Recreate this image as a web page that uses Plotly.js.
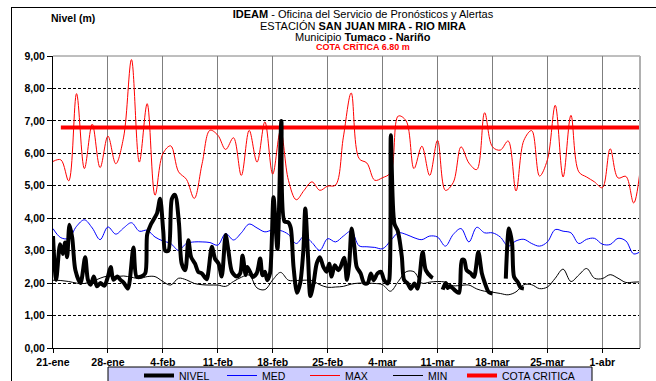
<!DOCTYPE html>
<html><head><meta charset="utf-8">
<script src="https://cdn.plot.ly/plotly-3.0.1.min.js"></script>
<style>
html,body{margin:0;padding:0;background:#fff;}
#wrap{position:relative;width:656px;height:381px;overflow:hidden;}
#chart{width:656px;height:381px;}
#frame{position:absolute;left:11px;top:7px;width:700px;height:420px;border-left:1px solid #000;border-top:1px solid #000;pointer-events:none;}
</style>
</head><body>
<div id="wrap"><div id="chart"></div><div id="frame"></div></div>
<script>
// ---- data (días contados desde el 21-ene) ----
const fechaInicio = [2019, 0, 21];
const tickDias = [0, 7, 14, 21, 28, 35, 42, 49, 56, 63, 70];
const tickEtiquetas = ['21-ene','28-ene','4-feb','11-feb','18-feb','25-feb','4-mar','11-mar','18-mar','25-mar','1-abr'];

const maxValores = [5.75,5.8,5.15,7.84,5.53,6.9,5.56,6.53,5.68,6.5,
  8.89,5.73,7.53,4.71,5.99,6.23,5.43,5.2,4.61,5.68,
  6.71,6.56,6.12,6.48,5.32,6.71,5.73,6.97,5.36,6.71,
  5.17,4.57,4.86,5.12,4.86,4.99,5.02,6.5,7.86,5.84,
  5.7,5.17,5.25,5.4,7.15,7.0,5.53,6.22,5.32,6.4,
  4.86,5.1,6.2,5.7,5.5,7.25,6.2,6.1,6.38,4.84,
  6.4,6.7,5.3,5.8,7.48,5.27,7.17,5.43,5.27,5.12,
  4.94,6.14,5.24,5.29,4.47,5.9];
const medValores = [3.68,3.4,3.38,3.75,3.95,3.7,3.34,3.73,3.51,3.7,
  3.86,3.6,3.63,3.42,3.3,3.22,3.01,3.22,3.27,3.27,
  3.25,3.17,3.53,3.33,3.55,3.82,3.7,3.58,3.64,3.62,
  3.5,3.22,3.45,3.25,3.01,3.37,3.27,3.45,3.6,3.15,
  3.12,3.1,3.06,3.3,3.55,3.5,3.4,3.34,3.45,3.42,
  3.14,3.5,3.68,3.27,3.72,3.55,3.55,3.42,3.14,3.3,
  3.35,3.22,3.14,3.27,3.65,3.6,3.55,3.22,3.35,3.38,
  3.2,3.19,3.38,3.3,2.9,3.0];
const minValores = [2.09,2.08,2.05,2.0,1.99,2.05,2.15,2.22,2.2,2.22,
  2.18,2.14,2.2,2.2,2.05,1.94,2.15,2.1,1.99,1.95,
  1.94,1.94,1.9,2.05,2.18,2.25,1.85,1.8,2.1,2.33,
  2.09,2.08,2.09,2.08,1.95,1.87,1.88,1.9,1.97,2.0,
  2.0,1.99,1.95,1.75,2.05,2.35,2.35,2.0,2.03,2.05,
  2.03,1.92,1.93,1.94,1.82,1.75,1.72,1.68,1.64,1.73,
  1.95,1.95,1.83,1.88,2.15,2.43,2.05,2.25,2.45,2.15,
  2.14,2.26,2.15,2.02,2.03,2.04];
const nivelDias = [0,0.4,0.9,1.25,1.55,1.8,2.1,2.45,2.85,3.5,
  4.1,4.45,4.8,5.2,5.6,6.05,6.55,7.0,7.35,7.7,
  8.2,8.6,9.05,9.55,10.25,10.65,11.2,11.75,12.0,12.45,
  12.8,13.25,13.65,14.05,14.3,14.7,15.15,15.55,16.05,16.4,
  16.85,17.25,17.6,18.1,18.5,18.95,19.6,19.8,20.25,20.65,
  21.1,21.5,22.0,22.35,22.8,23.4,23.85,24.15,24.55,24.75,
  25.1,25.45,25.95,26.4,26.7,27.0,27.3,27.65,28.1,28.6,
  29.1,29.5,30.0,30.3,30.65,31.1,31.5,31.9,32.15,32.5,
  32.8,33.2,33.6,34.0,34.45,34.85,35.2,35.5,35.9,36.35,
  36.65,37.1,37.45,37.75,38.05,38.4,38.7,39.2,39.65,40.1,
  40.5,40.85,41.35,41.8,42.2,42.65,42.85,43.05,43.5,43.9,
  44.1,44.45,44.75,45.2,45.6,46.05,46.45,47.1,47.5,48.2,
  48.4,49.0,49.65,50.05,50.3,50.55,50.9,51.35,51.75,52.1,
  52.4,52.7,53.25,53.65,54.2,54.65,55.05,55.5,56.0,56.8,
  57.7,58.1,58.5,58.75,59.2,59.6,60.0];
const nivelValores = [3.45,2.1,3.2,2.9,3.25,2.8,3.8,3.4,2.4,2.0,
  2.8,2.1,1.95,2.2,1.9,2.0,1.92,2.2,2.5,2.1,
  2.2,2.1,2.0,1.83,3.1,2.2,2.2,2.3,3.5,3.8,
  3.95,4.15,4.6,3.6,3.0,3.0,4.6,4.72,3.85,2.6,
  2.4,3.32,2.8,2.6,2.35,2.3,2.12,2.35,3.12,2.75,
  2.6,2.2,3.48,3.0,2.35,2.2,2.3,2.85,2.25,2.5,
  2.35,2.19,2.3,2.76,2.24,2.35,2.09,2.3,4.65,3.05,
  7.0,3.9,3.87,3.7,2.5,1.7,2.0,3.0,4.3,2.8,
  1.6,2.0,2.6,2.8,2.5,2.35,2.6,2.2,2.55,2.4,
  2.5,2.78,2.1,2.6,3.68,3.12,2.5,2.3,2.0,2.0,
  2.3,2.09,2.3,2.35,2.09,1.99,2.1,6.56,3.84,3.63,
  3.42,2.81,2.09,1.99,1.83,1.99,1.83,2.96,2.4,2.19,
  2.16,null,1.8,2.0,1.85,1.9,1.85,1.75,1.7,2.71,
  2.71,2.4,2.3,2.19,2.96,2.3,1.99,1.73,1.68,null,
  2.14,3.68,3.22,2.19,2.04,1.86,1.83];
const cotaDias = [1, 75];
const cotaCritica = 6.80;

// ---- helpers ----
const t0 = Date.UTC(fechaInicio[0], fechaInicio[1], fechaInicio[2]);
function fecha(d) {
  const dt = new Date(t0 + Math.round(d * 24 * 60) * 60000);
  return dt.toISOString().slice(0, 16).replace('T', ' ');
}
const diasDiarios = maxValores.map((_, i) => i);
const fechasDiarias = diasDiarios.map(fecha);

const FONT = 'Liberation Sans, Arial, sans-serif';
const W = 656, H = 381, ML = 53, MR = 16, MT = 56, MB = 33;
const PW = W - ML - MR, PH = H - MT - MB;
const px = x => (x - ML) / PW;          // pixel -> paper x
const py = y => (H - MB - y) / PH;      // pixel -> paper y

const traces = [
  {name:'MIN', x:fechasDiarias, y:minValores, type:'scatter', mode:'lines',
   line:{color:'#000000', width:1, shape:'spline', smoothing:1}, legendrank:4},
  {name:'MED', x:fechasDiarias, y:medValores, type:'scatter', mode:'lines',
   line:{color:'#0000ff', width:1, shape:'spline', smoothing:1}, legendrank:2},
  {name:'MAX', x:fechasDiarias, y:maxValores, type:'scatter', mode:'lines',
   line:{color:'#ff0000', width:1, shape:'spline', smoothing:1}, legendrank:3},
  {name:'COTA CRITICA', x:cotaDias.map(fecha), y:cotaDias.map(() => cotaCritica), type:'scatter', mode:'lines',
   line:{color:'#ff0000', width:4}, legend:'legend2'},
  {name:'NIVEL', x:nivelDias.map(fecha), y:nivelValores, type:'scatter', mode:'lines',
   connectgaps:false,
   line:{color:'#000000', width:4, shape:'spline', smoothing:0.8}, legendrank:1}
];

const legendBase = {orientation:'h', yanchor:'top', y:py(361), xanchor:'left',
  bgcolor:'rgba(0,0,0,0)', borderwidth:0, itemwidth:30,
  font:{family:FONT, size:10.5, color:'#000'}};

const layout = {
  width:W, height:H,
  margin:{l:ML, r:MR, t:MT, b:MB, autoexpand:false},
  paper_bgcolor:'#ffffff', plot_bgcolor:'#ffffff',
  separators:',.',
  font:{family:FONT, color:'#000', size:10},
  showlegend:true,
  title:{text:'<b>IDEAM</b> - Oficina del Servicio de Pronósticos y Alertas',
    font:{family:FONT, size:11, color:'#000'},
    x:px(363), xref:'paper', xanchor:'center', y:1 - 14.5/H, yref:'container', yanchor:'middle'},
  xaxis:{type:'date', range:[fecha(0), fecha(74.8)],
    tickvals:tickDias.map(fecha), ticktext:tickEtiquetas,
    tickfont:{family:FONT, size:10.5, weight:'bold', color:'#000'},
    ticks:'outside', ticklen:4, tickcolor:'#000',
    showgrid:true, gridcolor:'#7f7f7f', gridwidth:1,
    showline:true, linecolor:'#000', linewidth:1, zeroline:false, fixedrange:true},
  yaxis:{range:[0, 9], dtick:1, tick0:0, tickformat:'.2f',
    tickfont:{family:FONT, size:10.5, weight:'bold', color:'#000'},
    ticks:'outside', ticklen:5, tickcolor:'#000',
    showgrid:true, gridcolor:'#000', griddash:'3px,2px', gridwidth:1,
    showline:true, linecolor:'#000', linewidth:1, zeroline:false, fixedrange:true},
  legend:Object.assign({}, legendBase, {x:px(139), entrywidth:38, entrywidthmode:'pixels'}),
  legend2:Object.assign({}, legendBase, {x:px(462)}),
  shapes:[
    {type:'line', xref:'paper', yref:'paper', x0:0, x1:1, y0:1, y1:1, line:{color:'#7f7f7f', width:1}},
    {type:'line', xref:'paper', yref:'paper', x0:1, x1:1, y0:0, y1:1, line:{color:'#b0b0b0', width:2}},
    {type:'rect', xref:'paper', yref:'paper', x0:px(108), x1:px(592), y0:py(367), y1:py(395),
     fillcolor:'#ccccff', line:{color:'#000', width:1}, layer:'above'}
  ],
  annotations:[
    {text:'ESTACIÓN <b>SAN JUAN MIRA - RIO MIRA</b>', xref:'paper', yref:'paper', x:px(363), y:py(26),
     xanchor:'center', yanchor:'middle', showarrow:false, font:{family:FONT, size:11, color:'#000'}},
    {text:'Municipio <b>Tumaco - Nariño</b>', xref:'paper', yref:'paper', x:px(363), y:py(37),
     xanchor:'center', yanchor:'middle', showarrow:false, font:{family:FONT, size:11, color:'#000'}},
    {text:'<b>COTA CRÍTICA 6.80 m</b>', xref:'paper', yref:'paper', x:px(363), y:py(47),
     xanchor:'center', yanchor:'middle', showarrow:false, font:{family:FONT, size:9, color:'#ff0000'}},
    {text:'<b>Nivel (m)</b>', xref:'paper', yref:'paper', x:px(73), y:py(18),
     xanchor:'center', yanchor:'middle', showarrow:false, font:{family:FONT, size:10.5, color:'#000'}}
  ]
};

Plotly.newPlot('chart', traces, layout, {displayModeBar:false, staticPlot:true});
</script>
</body></html>
